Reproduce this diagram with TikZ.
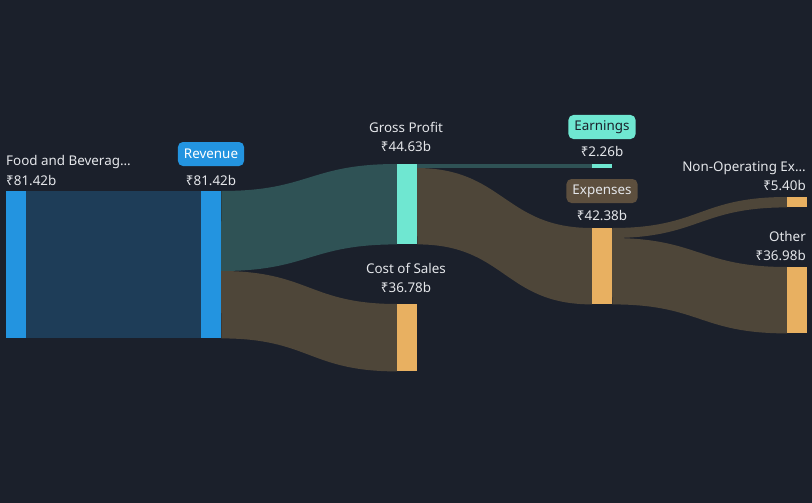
\documentclass[tikz,border=0pt]{standalone}
\usepackage{fontspec}
\setmainfont{Noto Sans}
\usetikzlibrary{backgrounds,positioning,calc}
\definecolor{bgdark}{HTML}{1B202B}
\definecolor{barblue}{HTML}{2394E0}
\definecolor{barteal}{HTML}{6FE7D1}
\definecolor{barorange}{HTML}{E8B061}
\definecolor{flowblue}{HTML}{1E3D58}
\definecolor{flowteal}{HTML}{2F5255}
\definecolor{flowbrown}{HTML}{4E4639}
\definecolor{pillbrown}{HTML}{5D4F3E}
\definecolor{txtlight}{HTML}{E4E6EA}
\newcommand{\amt}[1]{₹#1}

\begin{document}
\begin{tikzpicture}[x=1pt,y=-1pt]
      \tikzstyle{every node}=[font=\fontsize{13.4}{15}\selectfont,text=txtlight]
      \tikzstyle{bar}=[draw=none,inner sep=0pt,anchor=north west,minimum width=20pt]
      \tikzstyle{lbl}=[inner sep=0pt]
      \tikzstyle{pill}=[rounded corners=5pt,inner xsep=6pt,minimum height=24pt]
      \useasboundingbox (0,0) rectangle (812,503);

      % bars
      \node[bar,fill=barblue,minimum height=147pt] (food) at (6,191) {};
      \node[bar,fill=barblue,minimum height=147pt] (rev) at (201,191) {};
      \node[bar,fill=barteal,minimum height=80pt] (gp) at (397,164) {};
      \node[bar,fill=barorange,minimum height=67pt] (cos) at (397,304) {};
      \node[bar,fill=barteal,minimum height=4pt] (earn) at (592,164) {};
      \node[bar,fill=barorange,minimum height=76pt] (exp) at (592,228) {};
      \node[bar,fill=barorange,minimum height=10pt] (nonop) at (787,197) {};
      \node[bar,fill=barorange,minimum height=66pt] (other) at (787,267) {};

      % split points
      \coordinate (rev-split) at (221,271);
      \coordinate (gp-split) at (416,168);
      \coordinate (exp-split) at (611,238);

      % flows
      \begin{scope}[on background layer]
      \fill[bgdark] (0,0) rectangle (812,503);
      \fill[flowblue] (food.north east) rectangle (rev.south west);
      \fill[flowteal] (rev.north east) .. controls +(88,0) and +(-88,0) .. (gp.north west)
          -- (gp.south west) .. controls +(-88,0) and +(88,0) .. (rev-split) -- cycle;
      \fill[flowbrown] (rev-split) .. controls +(88,0) and +(-88,0) .. (cos.north west)
          -- (cos.south west) .. controls +(-88,0) and +(88,0) .. (rev.south east) -- cycle;
      \fill[flowteal] (gp.north east) rectangle (earn.south west);
      \fill[flowbrown] (gp-split) .. controls +(88,0) and +(-88,0) .. (exp.north west)
          -- (exp.south west) .. controls +(-88,0) and +(88,0) .. (gp.south east) -- cycle;
      \fill[flowbrown] (exp.north east) .. controls +(88,0) and +(-88,0) .. (nonop.north west)
          -- (nonop.south west) .. controls +(-88,0) and +(88,0) .. (exp-split) -- cycle;
      \fill[flowbrown] (exp-split) .. controls +(88,0) and +(-88,0) .. (other.north west)
          -- (other.south west) .. controls +(-88,0) and +(88,0) .. (exp.south east) -- cycle;
      \end{scope}

      % labels
      \node[lbl,anchor=base west] (food-name) at (6,165) {Food and Beverag...};
      \node[lbl,anchor=base west] (food-val) at (6,185) {\amt{81.42b}};
      \node[pill,fill=barblue,text=white] (rev-name) at (211,154) {Revenue};
      \node[lbl,anchor=base] (rev-val) at (211,185) {\amt{81.42b}};
      \node[lbl,anchor=base] (gp-name) at (406,132) {Gross Profit};
      \node[lbl,anchor=base] (gp-val) at (406,151) {\amt{44.63b}};
      \node[pill,fill=barteal,text=bgdark] (earn-name) at (602,127) {Earnings};
      \node[lbl,anchor=base] (earn-val) at (602,157) {\amt{2.26b}};
      \node[pill,fill=pillbrown] (exp-name) at (602,191) {Expenses};
      \node[lbl,anchor=base] (exp-val) at (602,220) {\amt{42.38b}};
      \node[lbl,anchor=base] (cos-name) at (406,273) {Cost of Sales};
      \node[lbl,anchor=base] (cos-val) at (406,292) {\amt{36.78b}};
      \node[lbl,anchor=base east] (nonop-name) at (806,171) {Non-Operating Ex...};
      \node[lbl,anchor=base east] (nonop-val) at (806,190) {\amt{5.40b}};
      \node[lbl,anchor=base east] (other-name) at (806,241) {Other};
      \node[lbl,anchor=base east] (other-val) at (806,260) {\amt{36.98b}};
\end{tikzpicture}
\end{document}
